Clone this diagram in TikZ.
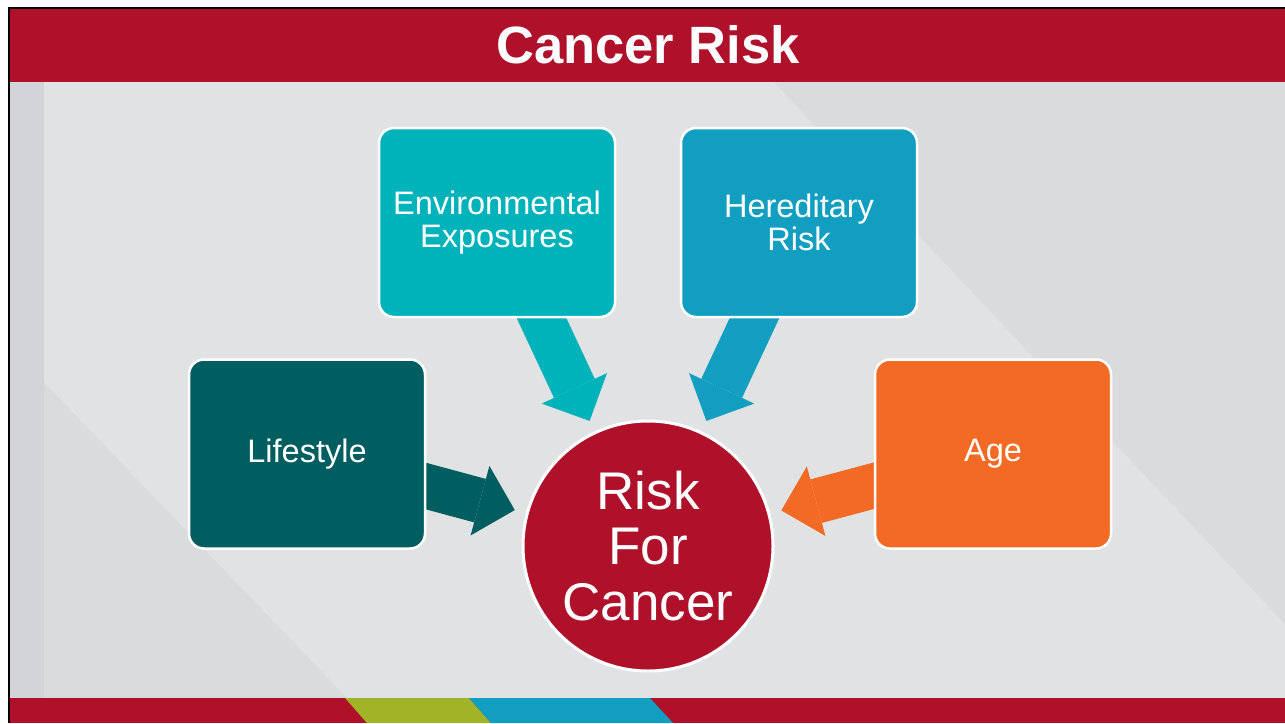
\documentclass[tikz,border=0pt]{standalone}
\usepackage{fontspec}
\setmainfont{Liberation Sans}
\usetikzlibrary{arrows.meta}
\definecolor{crimson}{HTML}{AE1129}
\definecolor{envc}{HTML}{00B2BA}
\definecolor{herc}{HTML}{129EC1}
\definecolor{lifec}{HTML}{005E60}
\definecolor{agec}{HTML}{F26A23}
\definecolor{limec}{HTML}{A1B427}
\definecolor{bglight}{HTML}{E1E2E4}
\definecolor{bgdark}{HTML}{DADBDD}
\definecolor{bgstrip}{HTML}{D3D4D7}
\pgfdeclarelayer{under}
\pgfsetlayers{under,main}
\begin{document}
\begin{tikzpicture}[x=1pt,y=-1pt,
  box/.style={draw=white, line width=2.5pt, rounded corners=15pt,
    minimum width=236pt, minimum height=189pt, inner sep=0pt, outer sep=0pt,
    text=white, align=center, font=\fontsize{32.5}{33}\selectfont},
  circ/.style={circle, draw=white, line width=3pt, fill=crimson,
    minimum size=250pt, inner sep=0pt, outer sep=0pt,
    text=white, align=center, font=\fontsize{53}{55.5}\selectfont},
  blockarrow/.style={line width=45pt,
    -{Triangle[width=72pt,length=36pt,line width=0pt]},
    shorten <=-40pt, shorten >=13pt}]
\useasboundingbox (0,0) rectangle (1285,723);
\begin{pgfonlayer}{under}
  \fill[white] (0,0) rectangle (1285,723);
  \fill[bglight] (10,82) rectangle (1285,698);
  \fill[bgdark] (10,347) -- (347,698) -- (10,698) -- cycle;
  \fill[bgdark] (774,82) -- (1285,82) -- (1285,624) -- cycle;
  \fill[bgstrip] (10,82) rectangle (44,698);
\end{pgfonlayer}
% header and frame
\fill[crimson] (10,9) rectangle (1285,82);
\fill[black] (8,7) rectangle (1285,9);
\fill[black] (8,7) rectangle (10,723);
% bottom bar
\fill[crimson] (10,698) rectangle (1285,723);
\fill[limec] (345,698) -- (469,698) -- (491,723) -- (367,723) -- cycle;
\fill[herc] (469,698) -- (650,698) -- (673,723) -- (491,723) -- cycle;
% title
\node[text=white, font=\bfseries\fontsize{52.5}{52.5}\selectfont] (title) at (648,45) {Cancer Risk};
% boxes
\node[box, fill=envc] (env) at (497,222.5) {Environmental\\Exposures};
\node[box, fill=herc] (her) at (799,222.5) {Hereditary\\Risk};
\node[box, fill=lifec] (life) at (307,454) {Lifestyle};
\node[box, fill=agec] (age) at (993,454) {Age};
\node[circ] (risk) at (648,546) {Risk\\For\\Cancer};
% arrows
\begin{pgfonlayer}{under}
  \draw[blockarrow, draw=envc] (env) -- (risk);
  \draw[blockarrow, draw=herc] (her) -- (risk);
  \draw[blockarrow, draw=lifec] (life) -- (risk);
  \draw[blockarrow, draw=agec] (age) -- (risk);
\end{pgfonlayer}
\end{tikzpicture}
\end{document}
